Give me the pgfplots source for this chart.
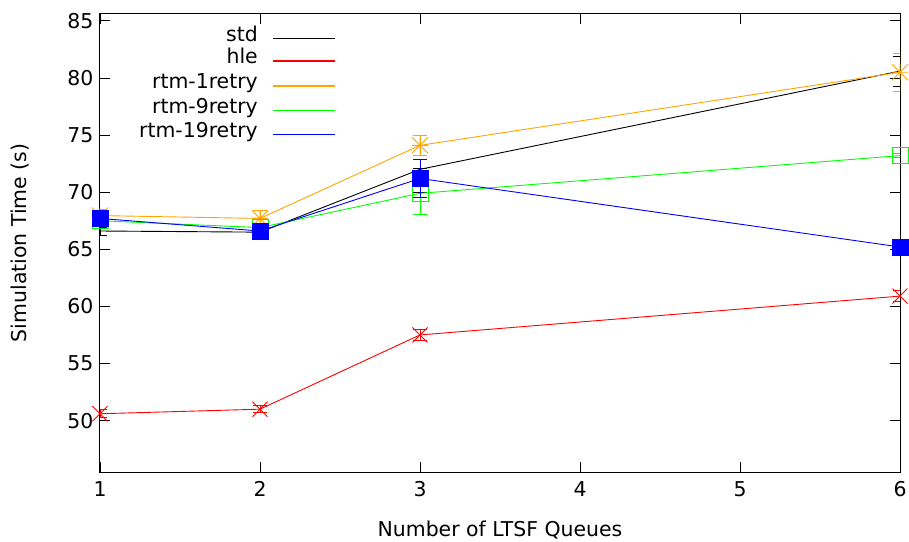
\documentclass[border=0pt]{standalone}
\usepackage{pgfplots}
\pgfplotsset{compat=1.18}
\usepackage{fontspec}
\setmainfont{DejaVu Sans}
\definecolor{gporange}{RGB}{255,165,0}
\definecolor{gpgreen}{RGB}{0,255,0}
\definecolor{gpblue}{RGB}{0,0,255}
\definecolor{gpred}{RGB}{255,0,0}
\pgfdeclareplotmark{gpx}{%
  \pgfpathmoveto{\pgfqpoint{-\pgfplotmarksize}{-\pgfplotmarksize}}%
  \pgfpathlineto{\pgfqpoint{\pgfplotmarksize}{\pgfplotmarksize}}%
  \pgfpathmoveto{\pgfqpoint{-\pgfplotmarksize}{\pgfplotmarksize}}%
  \pgfpathlineto{\pgfqpoint{\pgfplotmarksize}{-\pgfplotmarksize}}%
  \pgfusepathqstroke}
\pgfdeclareplotmark{gpstar}{%
  \pgfpathmoveto{\pgfqpoint{-\pgfplotmarksize}{-\pgfplotmarksize}}%
  \pgfpathlineto{\pgfqpoint{\pgfplotmarksize}{\pgfplotmarksize}}%
  \pgfpathmoveto{\pgfqpoint{-\pgfplotmarksize}{\pgfplotmarksize}}%
  \pgfpathlineto{\pgfqpoint{\pgfplotmarksize}{-\pgfplotmarksize}}%
  \pgfpathmoveto{\pgfqpoint{-\pgfplotmarksize}{0pt}}%
  \pgfpathlineto{\pgfqpoint{\pgfplotmarksize}{0pt}}%
  \pgfpathmoveto{\pgfqpoint{0pt}{-\pgfplotmarksize}}%
  \pgfpathlineto{\pgfqpoint{0pt}{\pgfplotmarksize}}%
  \pgfusepathqstroke}
\begin{document}
\begin{tikzpicture}[font=\fontsize{20.5}{24}\selectfont]
\path[use as bounding box] (-100bp,-70bp) rectangle (809bp,472bp);
\begin{axis}[
  scale only axis,
  width=800bp, height=458bp,
  xmin=1, xmax=6, ymin=45.5, ymax=85.6,
  xtick={1,2,3,4,5,6},
  ytick={50,55,60,65,70,75,80,85},
  tick align=inside,
  major tick length=10bp,
  tick style={black, line width=0.8bp},
  axis line style={black, line width=1bp},
  /pgf/number format/assume math mode=true,
  tick label style={font=\fontsize{20.5}{24}\selectfont},
  label style={font=\fontsize{20.5}{24}\selectfont},
  xticklabel style={yshift=-6bp},
  yticklabel style={xshift=-3bp},
  xlabel={Number of LTSF Queues},
  ylabel={Simulation Time (s)},
  xlabel style={at={(axis description cs:0.5,-0.127)}, anchor=center},
  ylabel style={at={(axis description cs:-0.1,0.5)}, anchor=center},
  error bars/y dir=both,
  error bars/y explicit,
  every axis plot/.append style={line width=0.9bp},
]
\addplot[black, mark=none, error bars/.cd, error mark options={black, rotate=90, mark size=7bp, line width=0.9bp}]
  table[x=x, y=y, y error plus=ep, y error minus=em] {
x y ep em
1 66.6 0.35 0.35
2 66.5 0.2 0.2
3 72.0 0.05 2.0
6 80.6 1.3 1.3
};
\addplot[gpred, mark=gpx, mark size=7.5bp, error bars/.cd, error mark options={gpred, rotate=90, mark size=7bp, line width=0.9bp}]
  table[x=x, y=y, y error plus=ep, y error minus=em] {
x y ep em
1 50.6 0.35 0.35
2 51.0 0.3 0.3
3 57.5 0.45 0.45
6 60.9 0.5 0.5
};
\addplot[gporange, mark=gpstar, mark size=8bp, error bars/.cd, error mark options={gporange, rotate=90, mark size=7bp, line width=0.9bp}]
  table[x=x, y=y, y error plus=ep, y error minus=em] {
x y ep em
1 67.95 0.5 0.5
2 67.7 0.7 0.7
3 74.1 0.9 0.9
6 80.5 1.65 1.65
};
\addplot[gpgreen, mark=square, mark size=8bp, error bars/.cd, error mark options={gpgreen, rotate=90, mark size=7bp, line width=0.9bp}]
  table[x=x, y=y, y error plus=ep, y error minus=em] {
x y ep em
1 67.5 0.3 0.3
2 66.9 0.3 0.3
3 69.9 1.85 1.85
6 73.2 0.2 0.2
};
\addplot[gpblue, mark=square*, mark size=8bp, error bars/.cd, error mark options={gpblue, rotate=90, mark size=7bp, line width=0.9bp}]
  table[x=x, y=y, y error plus=ep, y error minus=em] {
x y ep em
1 67.7 0.3 0.3
2 66.6 0.3 0.3
3 71.2 1.65 1.65
6 65.2 0.2 0.2
};
% legend: lines first, then labels
\draw[black, line width=1.3bp] (axis description cs:0.216,0.9465) -- (axis description cs:0.294,0.9465);
\draw[gpred, line width=1.3bp] (axis description cs:0.216,0.8974) -- (axis description cs:0.294,0.8974);
\draw[gporange, line width=1.3bp] (axis description cs:0.216,0.8428) -- (axis description cs:0.294,0.8428);
\draw[gpgreen, line width=1.3bp] (axis description cs:0.216,0.7893) -- (axis description cs:0.294,0.7893);
\draw[gpblue, line width=1.3bp] (axis description cs:0.216,0.7369) -- (axis description cs:0.294,0.7369);
\node[anchor=mid east, inner sep=0pt, text=black] at (axis description cs:0.1975,0.9465) {std};
\node[anchor=mid east, inner sep=0pt, text=black] at (axis description cs:0.1975,0.8974) {hle};
\node[anchor=mid east, inner sep=0pt, text=black] at (axis description cs:0.1975,0.8428) {rtm-1retry};
\node[anchor=mid east, inner sep=0pt, text=black] at (axis description cs:0.1975,0.7893) {rtm-9retry};
\node[anchor=mid east, inner sep=0pt, text=black] at (axis description cs:0.1975,0.7369) {rtm-19retry};
\end{axis}
\end{tikzpicture}
\end{document}
